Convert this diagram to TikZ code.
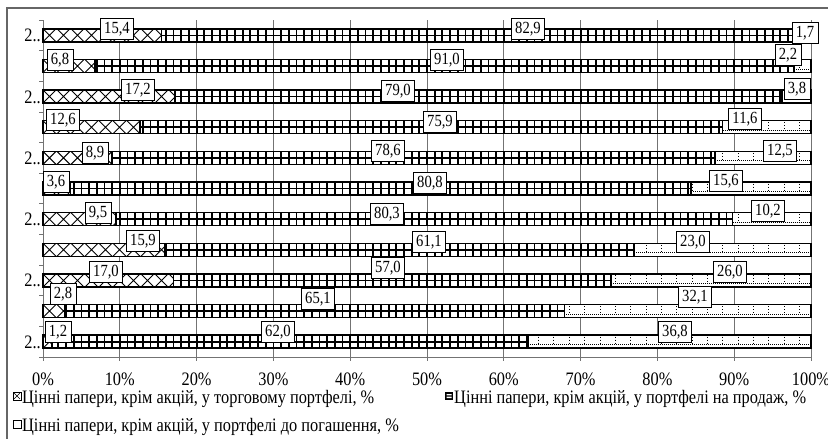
\documentclass[tikz,border=0pt]{standalone}
\usepackage{fontspec}
\newfontfamily\chartfont{Liberation Serif}[FakeStretch=0.86]
\newcommand\crossseg[3]{%
  \begin{scope}
    \clip (#1,#3-6.5) rectangle (#2,#3+6.5);
    \fill[white] (#1,#3-6.5) rectangle (#2,#3+6.5);
    \foreach \k in {0,...,56} {
      \draw[line width=0.9pt] ({43+14*\k-14},#3-6.5) -- ++(13,13) ++(0,-13) -- ++(-13,13);
    }
  \end{scope}}
\newcommand\gridseg[3]{%
  \begin{scope}
    \clip (#1,#3-6.5) rectangle (#2,#3+6.5);
    \fill[white] (#1,#3-6.5) rectangle (#2,#3+6.5);
    \foreach \k in {0,...,100} {
      \draw[line width=1.8pt] ({43+7.68*\k},#3-6.5) -- ++(0,13);
    }
    \draw[line width=1.6pt] (#1,#3) -- (#2,#3);
  \end{scope}}
\newcommand\dotseg[3]{%
  \begin{scope}
    \clip (#1,#3-6.5) rectangle (#2,#3+6.5);
    \fill[white] (#1,#3-6.5) rectangle (#2,#3+6.5);
    \foreach \k in {0,...,50} {
      \draw[line width=0.9pt, dash pattern=on 1pt off 2pt] ({43+15.36*\k+4},#3-5) -- ++(0,7);
    }
    \draw[line width=0.9pt, dash pattern=on 1pt off 1pt] (#1,#3+3) -- (#2,#3+3);
  \end{scope}}
\tikzset{
  grid line/.style={draw=black!55, line width=0.8pt},
  frame line/.style={draw=black!60, line width=1.2pt},
  bar outline/.style={draw=black, line width=1.5pt},
  vallabel/.style={draw=black, line width=0.7pt, fill=white, inner xsep=4pt, inner ysep=0pt,
    minimum height=21.5pt, font=\chartfont\fontsize{17}{17}\selectfont},
  axislabel/.style={font=\chartfont\fontsize{19}{19}\selectfont, inner sep=0pt, anchor=base},
  catlabel/.style={font=\chartfont\fontsize{19}{19}\selectfont, inner sep=0pt, anchor=base east},
  legendtext/.style={font=\chartfont\fontsize{19}{19}\selectfont, inner sep=0pt, anchor=base west},
  legendbox/.style={draw=black, line width=1pt, fill=white}
}
\begin{document}
\begin{tikzpicture}[x=1pt,y=-1pt]
\useasboundingbox (0,0) rectangle (828,439);
\fill[white] (0,0) rectangle (828,439);
% outer frame (left and top sides visible)
\coordinate (fTL) at (7,8);
\coordinate (fTR) at (830,8);
\coordinate (fBL) at (7,441);
\draw[frame line] (fBL) -- (fTL) -- (fTR);
% vertical gridlines and bottom ticks
\foreach \p in {1,...,10} {
  \draw[grid line] ({43+76.8*\p},20) -- ({43+76.8*\p},361);
}
\coordinate (axO) at (43,357);
\coordinate (axR) at (811,357);
\coordinate (axT) at (43,20);
\draw[grid line] (axT) -- (axO) -- (axR);
\draw[grid line] (43,357) -- (43,361);
\foreach \k in {0,...,11} {
  \draw[grid line] (39,{20+30.64*\k}) -- (43,{20+30.64*\k});
}
% axis labels
\foreach \p in {0,...,10} {
  \pgfmathtruncatemacro\pp{10*\p}
  \node[axislabel] (ax\p) at ({43+76.8*\p},385.5) {\pp\%};
}
% category labels
\foreach \i in {1,3,5,7,9,11} {
  \node[catlabel] (cat\i) at (41,{20+30.64*(\i-0.5)+6.5}) {2..};
}
% bars
\foreach \i/\a/\b in {1/15.4/82.9, 2/6.8/91.0, 3/17.2/79.0, 4/12.6/75.9, 5/8.9/78.6,
    6/3.6/80.8, 7/9.5/80.3, 8/15.9/61.1, 9/17.0/57.0, 10/2.8/65.1, 11/1.2/62.0} {
  \pgfmathsetmacro\yc{20+30.64*(\i-0.5)}
  \pgfmathsetmacro\xa{43+7.68*\a}
  \pgfmathsetmacro\xb{43+7.68*(\a+\b)}
  \crossseg{43}{\xa}{\yc}
  \gridseg{\xa}{\xb}{\yc}
  \dotseg{\xb}{811}{\yc}
  \draw[bar outline] (43,\yc-6.5) rectangle (\xa,\yc+6.5);
  \draw[bar outline] (\xa,\yc-6.5) rectangle (\xb,\yc+6.5);
  \draw[bar outline] (\xb,\yc-6.5) rectangle (811,\yc+6.5);
}
% value labels
\node[vallabel] (v1a) at (117,29) {15,4};
\node[vallabel] (v1b) at (528,29) {82,9};
\node[vallabel] (v1c) at (805,33) {1,7};
\node[vallabel] (v2a) at (60,60) {6,8};
\node[vallabel] (v2b) at (447,60) {91,0};
\node[vallabel] (v2c) at (788,55) {2,2};
\node[vallabel] (v3a) at (138,90) {17,2};
\node[vallabel] (v3b) at (398,91) {79,0};
\node[vallabel] (v3c) at (797,89) {3,8};
\node[vallabel] (v4a) at (63,120) {12,6};
\node[vallabel] (v4b) at (440,122) {75,9};
\node[vallabel] (v4c) at (745,119) {11,6};
\node[vallabel] (v5a) at (95,153) {8,9};
\node[vallabel] (v5b) at (388,151) {78,6};
\node[vallabel] (v5c) at (780,151) {12,5};
\node[vallabel] (v6a) at (56,182) {3,6};
\node[vallabel] (v6b) at (430,183) {80,8};
\node[vallabel] (v6c) at (726,181) {15,6};
\node[vallabel] (v7a) at (98,213) {9,5};
\node[vallabel] (v7b) at (387,214) {80,3};
\node[vallabel] (v7c) at (768,211) {10,2};
\node[vallabel] (v8a) at (143,241) {15,9};
\node[vallabel] (v8b) at (429,242) {61,1};
\node[vallabel] (v8c) at (693,242) {23,0};
\node[vallabel] (v9a) at (106,272) {17,0};
\node[vallabel] (v9b) at (388,268) {57,0};
\node[vallabel] (v9c) at (730,272) {26,0};
\node[vallabel] (v10a) at (63,294) {2,8};
\node[vallabel] (v10b) at (318,299) {65,1};
\node[vallabel] (v10c) at (695,297) {32,1};
\node[vallabel] (v11a) at (58,332) {1,2};
\node[vallabel] (v11b) at (278,332) {62,0};
\node[vallabel] (v11c) at (675,332) {36,8};
% legend
\draw[legendbox] (13,392) rectangle (21,400);
\draw[line width=0.6pt] (14,393) -- (20,399) (14,399) -- (20,393);
\node[legendtext] (lg1) at (22,403) {Цінні папери, крім акцій, у торговому портфелі, \%};
\fill[black] (445,392) rectangle (453,400);
\fill[white] (446.5,394) rectangle (451.5,395.3) (446.5,396.6) rectangle (451.5,398);
\node[legendtext] (lg2) at (454,403) {Цінні папери, крім акцій, у портфелі на продаж, \%};
\draw[legendbox] (13,420) rectangle (21,428);
\node[legendtext] (lg3) at (22,431) {Цінні папери, крім акцій, у портфелі до погашення, \%};
\end{tikzpicture}
\end{document}
